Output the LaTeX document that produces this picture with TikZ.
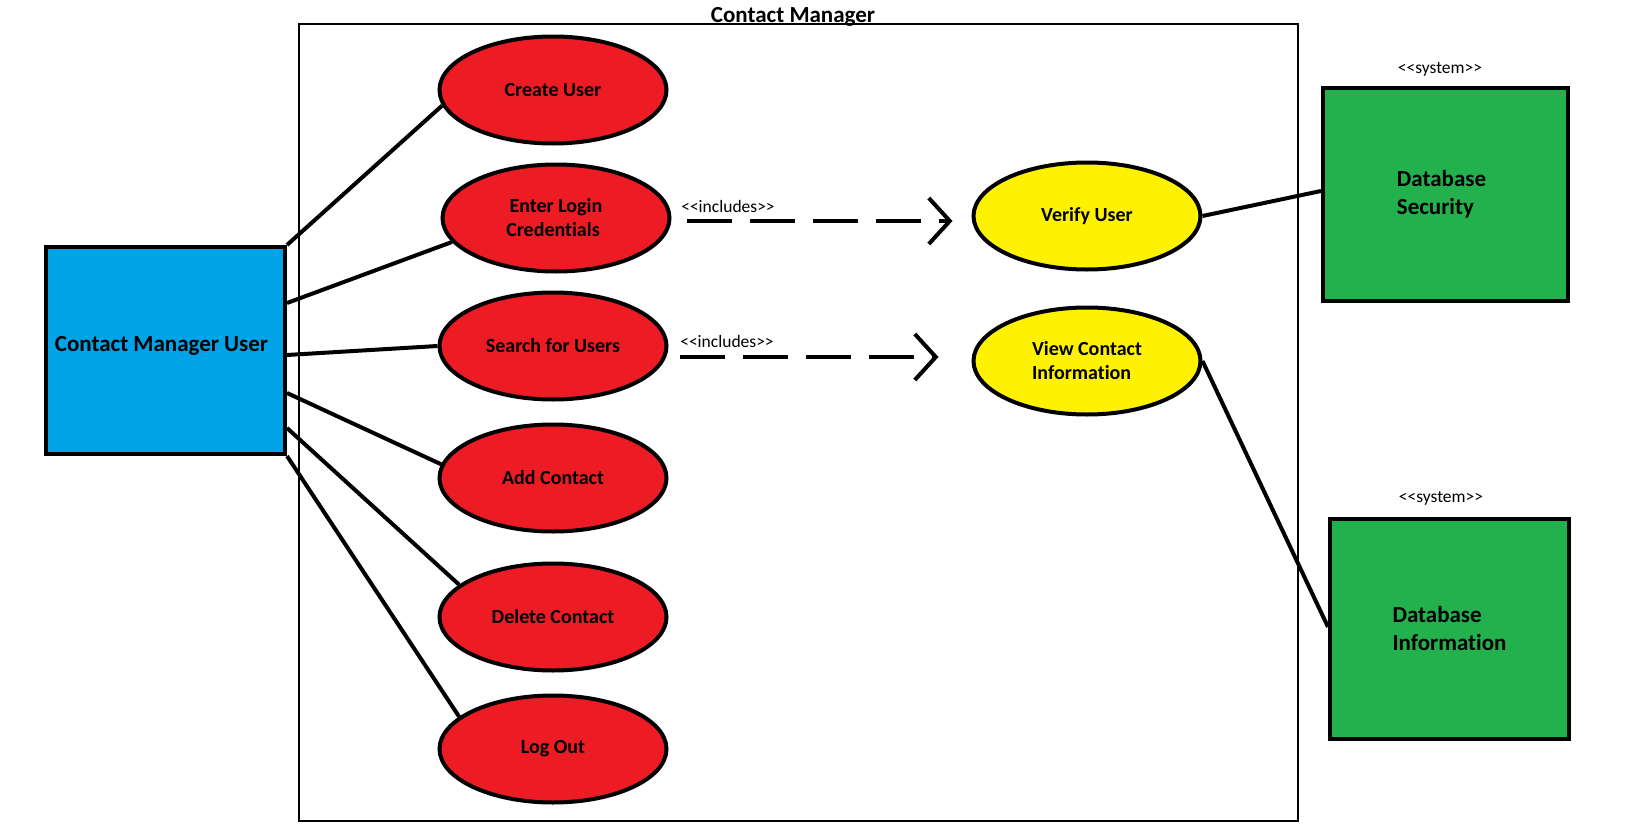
\documentclass[tikz,border=0pt]{standalone}
\usepackage{fontspec}
\setmainfont{Carlito}[Ligatures={NoCommon}]
\usetikzlibrary{shapes.geometric,arrows.meta}
\definecolor{ucred}{HTML}{ED1C24}
\definecolor{ucyellow}{HTML}{FFF200}
\definecolor{actblue}{HTML}{00A2E8}
\definecolor{sysgreen}{HTML}{22B14C}
\tikzset{
  uc/.style={ellipse, draw, line width=4pt, fill=ucred, minimum width=227pt, minimum height=107pt, inner sep=0pt,
    font=\bfseries\fontsize{20}{24}\selectfont, align=center},
  ucy/.style={uc, fill=ucyellow},
  box/.style={rectangle, draw, line width=4pt, inner sep=0pt, font=\bfseries\fontsize{23}{28}\selectfont, align=left},
  conn/.style={line width=4pt},
  incl/.style={line width=4pt, dash pattern=on 45pt off 18pt, -{Straight Barb[length=21pt,width=46pt,line width=4pt]}},
  stereo/.style={font=\fontsize{17.5}{20}\selectfont, inner sep=0pt}
}
\begin{document}
\begin{tikzpicture}[x=1pt,y=-1pt]
\useasboundingbox (0,0) rectangle (1626,830);
% system boundary
\node[draw, line width=2.5pt, minimum width=999pt, minimum height=797pt, inner sep=0pt] (sys) at (798.5,422.5) {};
\node[font=\bfseries\fontsize{23}{28}\selectfont, anchor=base, inner sep=0pt] (title) at (793,22) {Contact Manager};
% actor
\node[box, fill=actblue, minimum width=239pt, minimum height=207pt] (actor) at (165.5,350.5) {\raisebox{14pt}{Contact Manager User\hspace*{8pt}}};
% use cases
\node[uc] (create) at (553,90) {Create User};
\node[uc] (login) at (556,218) {Enter Login\\Credentials\hspace*{6pt}};
\node[uc] (search) at (553,346) {Search for Users};
\node[uc] (add) at (553,478) {Add Contact};
\node[uc] (delete) at (553,617) {Delete Contact};
\node[uc] (logout) at (553,749) {Log Out};
\node[ucy] (verify) at (1087,216) {Verify User};
\node[ucy, align=left] (view) at (1087,361) {View Contact\\Information};
% systems
\node[box, fill=sysgreen, minimum width=245pt, minimum height=213pt] (dbsec) at (1445.5,194.5) {\raisebox{6pt}{\begin{tabular}{@{}l@{}}Database\\Security\end{tabular}}\hspace*{8pt}};
\node[box, fill=sysgreen, minimum width=239pt, minimum height=220pt] (dbinfo) at (1449.5,629) {Database\\Information};
\node[stereo] (st1) at (1440,69) {<{}<system>{}>};
\node[stereo] (st2) at (1441,498) {<{}<system>{}>};
% associations
\draw[conn] (actor.north east) -- (create.188);
\draw[conn] ([yshift=47.5pt]actor.east) -- (login.193);
\draw[conn] ([yshift=-4.5pt]actor.east) -- (search.180);
\draw[conn] ([yshift=-42.5pt]actor.east) -- (add.173);
\draw[conn] ([yshift=-77.5pt]actor.east) -- (delete.161);
\draw[conn] (actor.south east) -- (logout.161);
\draw[conn] (verify.east) -- ([yshift=3.5pt]dbsec.west);
\draw[conn] (view.east) -- ([yshift=2pt]dbinfo.west);
% includes
\draw[incl] ([xshift=15pt,yshift=-3pt]login.east) -- ([xshift=-19pt,yshift=-5pt]verify.west);
\draw[incl] ([xshift=11pt,yshift=-11pt]search.east) -- ([xshift=-33pt,yshift=4pt]view.west);
\node[stereo] (inc1) at (728,206) {<{}<includes>{}>};
\node[stereo] (inc2) at (727,341) {<{}<includes>{}>};
\end{tikzpicture}
\end{document}
